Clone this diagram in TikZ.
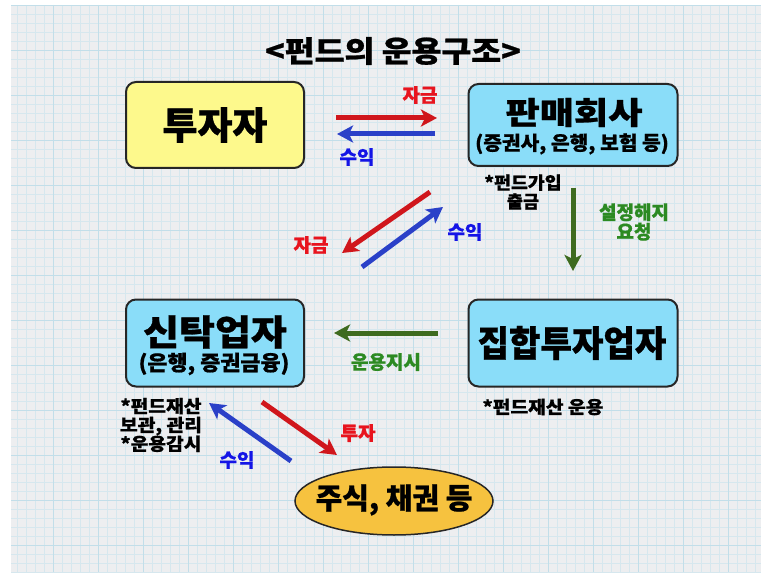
\documentclass[tikz,border=0pt]{standalone}
\usepackage{fontspec}
\setmainfont{Noto Sans CJK KR}[BoldFeatures={FakeBold=0.8}]
\usetikzlibrary{arrows.meta,shapes.geometric}
\definecolor{bgc}{HTML}{EDEEF0}
\definecolor{gridminor}{HTML}{D6E7EE}
\definecolor{gridmajor}{HTML}{C2DEE9}
\definecolor{yel}{HTML}{FDF98C}
\definecolor{sky}{HTML}{8ADDF9}
\definecolor{orng}{HTML}{F6C23F}
\definecolor{redA}{HTML}{D0161C}
\definecolor{redT}{HTML}{E8141E}
\definecolor{bluA}{HTML}{2A40C8}
\definecolor{bluT}{HTML}{1414E6}
\definecolor{grnA}{HTML}{3E6B1F}
\definecolor{grnT}{HTML}{2C8A22}
\definecolor{edgec}{HTML}{262626}
\newcommand{\fsz}[1]{\fontsize{#1}{#1}\selectfont\bfseries}
\newcommand{\hsc}[2]{\scalebox{#1}[1]{#2}}
\begin{document}
\begin{tikzpicture}[x=1pt,y=-1pt,
  box/.style={draw=edgec, line width=2pt, rounded corners=10pt, inner sep=0pt},
  arr/.style={line width=5pt, -{Stealth[length=16pt,width=17pt,inset=4pt]}},
  txt/.style={inner sep=0pt, text=black},
  lbl/.style={inner sep=0pt, font=\fsz{19}},
  note/.style={inner sep=0pt, align=center, font=\fontsize{17.5}{18.8}\selectfont\bfseries}
]
\useasboundingbox (0,0) rectangle (761,575);
% background panel with grid
\fill[bgc] (11,5) rectangle (761,572);
\begin{scope}
\clip (11,5) rectangle (761,572);
\foreach \i in {0,...,84} {
  \draw[gridminor, line width=0.6pt] ({8+9*\i},5) -- ({8+9*\i},572);
}
\foreach \j in {0,...,64} {
  \draw[gridminor, line width=0.6pt] (11,{5+9*\j}) -- (761,{5+9*\j});
}
\foreach \i in {0,...,17} {
  \draw[gridmajor, line width=0.8pt] ({8+45*\i},5) -- ({8+45*\i},572);
}
\foreach \j in {0,...,13} {
  \draw[gridmajor, line width=0.8pt] (11,{5+45*\j}) -- (761,{5+45*\j});
}
\end{scope}

% title
\node[txt, font=\fsz{29.5}] (title) at (393,51) {\hsc{1.1}{<펀드의 운용구조>}};

% boxes
\node[box, fill=yel, minimum width=178pt, minimum height=86pt] (inv) at (215,125) {};
\node[txt, font=\fsz{38}] (invT) at (215,125) {투자자};

\node[box, fill=sky, minimum width=209pt, minimum height=82pt] (sell) at (573,125) {};
\node[txt, font=\fsz{31}] (sellT) at (574,112.5) {\hsc{1.2}{판매회사}};
\node[txt, font=\fsz{19.5}] (sellS) at (572,144) {\hsc{1.04}{(증권사, 은행, 보험 등)}};

\node[box, fill=sky, minimum width=178pt, minimum height=87pt] (trust) at (215,343) {};
\node[txt, font=\fsz{35.5}] (trustT) at (215,332) {\hsc{1.1}{신탁업자}};
\node[txt, font=\fsz{21}] (trustS) at (214,364) {\hsc{1.04}{(은행, 증권금융)}};

\node[box, fill=sky, minimum width=209pt, minimum height=87pt] (col) at (573,343) {};
\node[txt, font=\fsz{36}] (colT) at (572,343) {\hsc{0.95}{집합투자업자}};

\node[ellipse, draw=edgec, line width=1.5pt, fill=orng, minimum width=198pt, minimum height=68pt, inner sep=0pt] (stock) at (394,501) {};
\node[txt, font=\fsz{29}] (stockT) at (394,500) {주식, 채권 등};

% arrow end points
\coordinate (a1s) at (336,118); \coordinate (a1e) at (437,118);
\coordinate (a2s) at (435,134); \coordinate (a2e) at (337,134);
\coordinate (a3s) at (430,192); \coordinate (a3e) at (342,253);
\coordinate (a4s) at (362,267); \coordinate (a4e) at (443,207);
\coordinate (a5s) at (573,188); \coordinate (a5e) at (573,271);
\coordinate (a6s) at (438,333); \coordinate (a6e) at (334,333);
\coordinate (a7s) at (262,402); \coordinate (a7e) at (337,455);
\coordinate (a8s) at (291,461); \coordinate (a8e) at (209,403);

\draw[arr, redA] (a1s) -- (a1e);
\draw[arr, bluA] (a2s) -- (a2e);
\draw[arr, redA] (a3s) -- (a3e);
\draw[arr, bluA] (a4s) -- (a4e);
\draw[arr, grnA] (a5s) -- (a5e);
\draw[arr, grnA] (a6s) -- (a6e);
\draw[arr, redA] (a7s) -- (a7e);
\draw[arr, bluA] (a8s) -- (a8e);

% labels
\node[lbl, text=redT] (l1) at (420,95) {자금};
\node[lbl, text=bluT] (l2) at (357,157) {수익};
\node[lbl, text=redT] (l3) at (311,245) {자금};
\node[lbl, text=bluT] (l4) at (465,232) {수익};
\node[lbl, text=grnT, align=center, font=\fontsize{19}{19.5}\selectfont\bfseries] (l5) at (634,222) {설정해지\\요청};
\node[lbl, text=grnT] (l6) at (386,362) {운용지시};
\node[lbl, text=redT] (l7) at (358,433) {투자};
\node[lbl, text=bluT] (l8) at (237,460) {수익};

% notes
\node[note] (n1) at (523,192) {\hsc{1.05}{*펀드가입}\\출금};
\node[note] (n2) at (543,407) {\hsc{1.1}{*펀드재산 운용}};
\node[note] (n3) at (161,425) {\hsc{1.1}{*펀드재산}\\\hsc{1.1}{보관, 관리}\\\hsc{1.1}{*운용감시}};
\end{tikzpicture}
\end{document}
